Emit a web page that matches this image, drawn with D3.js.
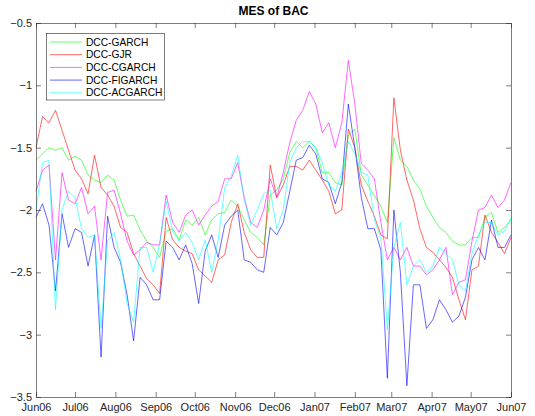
<!DOCTYPE html>
<html><head><meta charset="utf-8">
<script src="https://cdn.jsdelivr.net/npm/d3@7"></script>
<style>body{margin:0;background:#fff;} text{font-family:"Liberation Sans",Arial,sans-serif;}</style>
</head><body>
<svg id="c" width="535" height="416"></svg>
<script>
const startDate = new Date(2006, 5, 1);
const endDate = new Date(2007, 5, 1);
const dates = d3.timeDay.range(startDate, new Date(2007, 5, 2), 5);
const seriesNames = ["DCC-GARCH", "DCC-GJR", "DCC-CGARCH", "DCC-FIGARCH", "DCC-ACGARCH"];
const seriesColors = ["#00ff00", "#ff0000", "#ff00ff", "#0000ff", "#00ffff"];
const garch = [-1.6,-1.55,-1.5,-1.52,-1.5,-1.6,-1.57,-1.6,-1.72,-1.76,-1.78,-1.72,-1.76,-1.92,-2.05,-2.04,-2.16,-2.25,-2.3,-2.38,-2.17,-2.15,-2.24,-2.08,-2.12,-2.06,-2.2,-2.08,-2.03,-2.02,-1.92,-1.97,-2.08,-2.18,-2.22,-2.28,-1.88,-1.84,-1.75,-1.54,-1.45,-1.5,-1.45,-1.5,-1.7,-1.7,-1.78,-1.8,-1.4,-1.35,-1.72,-1.8,-1.88,-1.97,-2.1,-1.42,-1.6,-1.65,-1.76,-1.83,-1.97,-2.06,-2.14,-2.18,-2.25,-2.28,-2.28,-2.22,-2.22,-2.06,-2.02,-2.18,-2.14,-2.08];
const gjr = [-1.5,-1.25,-1.3,-1.2,-1.36,-1.52,-1.68,-1.75,-1.87,-1.56,-1.82,-1.88,-1.97,-2.14,-2.18,-2.35,-2.45,-2.55,-2.6,-2.67,-2.06,-2.24,-2.3,-2.33,-2.35,-2.48,-2.53,-2.58,-2.4,-2.36,-2.1,-1.95,-2.18,-2.32,-2.38,-2.38,-1.64,-1.9,-1.8,-1.65,-1.65,-1.68,-1.6,-1.68,-1.76,-1.85,-2.03,-2.0,-1.35,-1.5,-1.8,-1.93,-2.05,-2.2,-2.23,-1.1,-1.52,-1.76,-1.92,-2.15,-2.3,-2.34,-2.4,-2.46,-2.54,-2.72,-2.88,-2.48,-2.45,-2.04,-2.18,-2.26,-2.35,-2.22];
const cgarch = [-1.85,-1.68,-1.64,-2.4,-1.7,-1.92,-1.95,-1.82,-2.03,-1.97,-2.4,-1.86,-1.84,-2.03,-2.25,-2.36,-2.32,-2.26,-2.28,-2.28,-1.88,-2.1,-2.18,-2.04,-2.0,-2.12,-2.04,-1.97,-1.93,-1.75,-1.75,-1.62,-1.9,-2.1,-2.14,-2.0,-1.75,-1.9,-1.7,-1.46,-1.28,-1.2,-1.05,-1.15,-1.38,-1.3,-1.5,-1.3,-0.8,-1.15,-1.63,-1.68,-1.75,-2.1,-2.4,-2.3,-2.4,-2.3,-2.45,-2.45,-2.52,-2.48,-2.4,-2.3,-2.68,-2.58,-2.56,-2.25,-2.0,-1.98,-1.88,-1.98,-1.92,-1.78];
const figarch = [-2.06,-1.95,-2.12,-2.65,-2.03,-2.3,-2.15,-2.18,-2.45,-2.2,-3.18,-2.05,-2.3,-2.42,-2.68,-3.05,-2.54,-2.6,-2.72,-2.72,-2.25,-2.3,-2.4,-2.28,-2.43,-2.75,-2.33,-2.2,-2.38,-2.12,-2.05,-2.0,-2.4,-2.42,-2.48,-2.5,-2.14,-2.2,-2.1,-1.85,-1.6,-1.58,-1.48,-1.55,-1.75,-1.78,-1.95,-1.78,-1.15,-1.5,-1.9,-2.15,-2.15,-2.32,-3.35,-2.0,-2.5,-3.41,-2.6,-2.6,-2.95,-2.88,-2.72,-2.8,-2.9,-2.85,-2.7,-2.4,-2.3,-2.4,-2.08,-2.3,-2.3,-2.2];
const acgarch = [-2.0,-1.62,-1.6,-2.8,-2.0,-1.85,-1.9,-2.15,-2.22,-2.2,-2.95,-2.25,-2.18,-2.4,-2.75,-2.9,-2.3,-2.3,-2.5,-2.27,-1.93,-2.17,-2.25,-2.18,-2.26,-2.4,-2.24,-2.5,-2.24,-1.82,-1.73,-1.56,-1.92,-2.12,-2.0,-1.87,-1.84,-2.15,-2.0,-1.62,-1.5,-1.45,-1.45,-1.5,-1.62,-1.8,-1.85,-1.7,-1.45,-1.55,-1.7,-1.72,-2.08,-2.22,-2.96,-2.3,-2.1,-2.6,-2.45,-2.4,-2.5,-2.45,-2.3,-2.35,-2.4,-2.6,-2.65,-2.35,-2.2,-2.1,-2.1,-2.2,-2.17,-2.06];
const yTicks = [-3.5, -3, -2.5, -2, -1.5, -1, -0.5];
const chartTitle = "MES of BAC";

const allSeries = [garch, gjr, cgarch, figarch, acgarch];
const svg = d3.select("#c");
const L = 36, R = 511, T = 23, B = 397;
const x = d3.scaleTime().domain([startDate, endDate]).range([L, R]);
const y = d3.scaleLinear().domain([-3.5, -0.5]).range([B, T]);
const axisColor = "#262626";
const monthTicks = d3.timeMonth.range(startDate, new Date(2007, 5, 2));
const fmt = d3.timeFormat("%b%y");

// lines
const line = d3.line().x((d, i) => x(dates[i])).y(d => y(d));
const g = svg.append("g");
allSeries.forEach((s, k) => {
  g.append("path").datum(s).attr("d", line).attr("fill", "none")
    .attr("stroke", seriesColors[k]).attr("stroke-width", 0.8).attr("stroke-opacity", 0.75);
});

// axes
const axB = svg.append("g").attr("transform", `translate(0,${B})`)
  .call(d3.axisBottom(x).tickValues(monthTicks).tickFormat(fmt).tickSizeInner(-5).tickSizeOuter(0).tickPadding(6));
const axT = svg.append("g").attr("transform", `translate(0,${T})`)
  .call(d3.axisTop(x).tickValues(monthTicks).tickFormat("").tickSizeInner(-5).tickSizeOuter(0));
const axL = svg.append("g").attr("transform", `translate(${L},0)`)
  .call(d3.axisLeft(y).tickValues(yTicks).tickFormat(d3.format("")).tickSizeInner(-5).tickSizeOuter(0).tickPadding(4));
const axR = svg.append("g").attr("transform", `translate(${R},0)`)
  .call(d3.axisRight(y).tickValues(yTicks).tickFormat("").tickSizeInner(-5).tickSizeOuter(0));
[axB, axT, axL, axR].forEach(a => {
  a.select(".domain").attr("stroke", axisColor).attr("stroke-width", 0.6);
  a.selectAll(".tick line").attr("stroke", axisColor).attr("stroke-width", 0.6);
  a.selectAll("text").attr("fill", "#262626").style("font-size", "11px").style("font-family", "'Liberation Sans',Arial,sans-serif");
});
axL.selectAll("text").attr("dy", "0.32em");

// title
svg.append("text").attr("x", (L + R) / 2).attr("y", 15).attr("text-anchor", "middle")
  .style("font-size", "12px").style("font-weight", "bold").attr("fill", "#000").text(chartTitle);

// legend
const lg = svg.append("g");
lg.append("rect").attr("x", 46.5).attr("y", 33.5).attr("width", 118).attr("height", 66.5)
  .attr("fill", "#fff").attr("stroke", axisColor).attr("stroke-width", 0.6);
seriesNames.forEach((n, k) => {
  const yy = 42 + k * 12.7;
  lg.append("line").attr("x1", 50).attr("x2", 82).attr("y1", yy).attr("y2", yy)
    .attr("stroke", seriesColors[k]).attr("stroke-width", 0.8).attr("stroke-opacity", 0.75);
  lg.append("text").attr("x", 86).attr("y", yy).attr("dy", "0.35em")
    .style("font-size", "10.2px").attr("fill", "#000").text(n);
});
</script>
</body></html>
